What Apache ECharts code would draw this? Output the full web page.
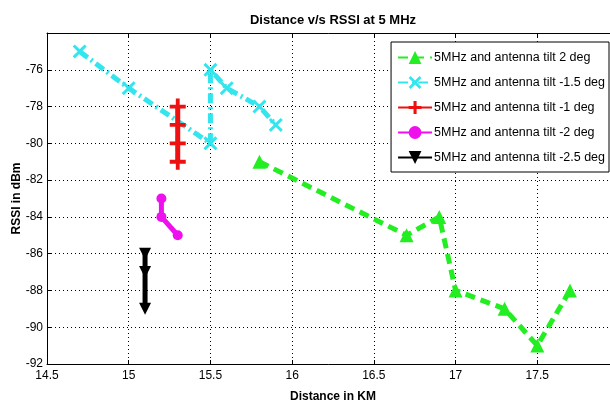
<!DOCTYPE html>
<html lang="en">
  <head>
    <meta charset="UTF-8" />
    <title>Distance v/s RSSI at 5 MHz</title>
    <script src="https://cdn.jsdelivr.net/npm/echarts@6/dist/echarts.min.js"></script>
    <style>
      html, body { margin: 0; padding: 0; background: #fff; }
      #main { width: 610px; height: 408px; }
    </style>
  </head>
  <body>
    <div id="main"></div>

    <script>
      // values
      const tilt2X = [15.8, 16.7, 16.9, 17.0, 17.3, 17.5, 17.7];
      const tilt2Y = [-81, -85, -84, -88, -89, -91, -88];
      const tiltM15X = [14.7, 15.0, 15.5, 15.5, 15.6, 15.8, 15.9];
      const tiltM15Y = [-75, -77, -80, -76, -77, -78, -79];
      const tiltM1X = [15.3, 15.3, 15.3, 15.3];
      const tiltM1Y = [-78, -79, -80, -81];
      const tiltM2X = [15.2, 15.2, 15.3];
      const tiltM2Y = [-83, -84, -85];
      const tiltM25X = [15.1, 15.1, 15.1];
      const tiltM25Y = [-86, -87, -89];

      const seriesNames = [
        '5MHz and antenna tilt 2 deg',
        '5MHz and antenna tilt -1.5 deg',
        '5MHz and antenna tilt -1 deg',
        '5MHz and antenna tilt -2 deg',
        '5MHz and antenna tilt -2.5 deg',
      ];

      const plusPath = 'path://M3.8,0H6.2V3.8H10V6.2H6.2V10H3.8V6.2H0V3.8H3.8Z';
      const crossPath = 'path://M1.5,0L5,3.5L8.5,0L10,1.5L6.5,5L10,8.5L8.5,10L5,6.5L1.5,10L0,8.5L3.5,5L0,1.5Z';

      function pairs(xs, ys) {
        return xs.map((x, i) => [x, ys[i]]);
      }

      const font = 'Liberation Sans, Arial, sans-serif';

      const chart = echarts.init(document.getElementById('main'), null, { renderer: 'canvas' });

      const options = {
        backgroundColor: '#fff',
        animation: false,
        title: {
          text: 'Distance v/s RSSI at 5 MHz',
          left: 328,
          textAlign: 'center',
          top: 9,
          textStyle: { fontFamily: font, fontSize: 13, fontWeight: 'bold', color: '#000' },
        },
        grid: { left: 47, right: -9, top: 33, bottom: 44, outerBoundsMode: 'none', containLabel: false },
        legend: {
          orient: 'vertical',
          right: 1,
          top: 42,
          padding: [9, 4, 8, 6],
          itemGap: 12,
          itemWidth: 34,
          itemHeight: 16,
          backgroundColor: '#fff',
          borderColor: '#000',
          borderWidth: 1,
          borderRadius: 0,
          textStyle: { fontFamily: font, fontSize: 12.5, color: '#000', padding: [0, 0, 0, -3] },
          data: seriesNames,
        },
        xAxis: [
          {
            type: 'value',
            min: 14.5,
            max: 18,
            interval: 0.5,
            name: 'Distance in KM',
            nameLocation: 'middle',
            nameGap: 27,
            nameTextStyle: { fontFamily: font, fontSize: 12, fontWeight: 'bold', color: '#000' },
            axisLine: { lineStyle: { color: '#000', width: 1 } },
            axisTick: { inside: true, length: 4, lineStyle: { color: '#000' } },
            axisLabel: { fontFamily: font, fontSize: 12, color: '#000', margin: 6, showMaxLabel: false },
            splitLine: { show: true, lineStyle: { color: '#000', type: [1, 3], width: 1 } },
          },
          {
            type: 'value',
            position: 'top',
            min: 14.5,
            max: 18,
            interval: 0.5,
            axisLine: { lineStyle: { color: '#000', width: 1 } },
            axisTick: { inside: true, length: 4, lineStyle: { color: '#000' } },
            axisLabel: { show: false },
            splitLine: { show: false },
          },
        ],
        yAxis: [
          {
            type: 'value',
            min: -92,
            max: -74,
            interval: 2,
            name: 'RSSI in dBm',
            nameLocation: 'middle',
            nameGap: 24,
            nameMoveOverlap: false,
            nameTextStyle: { fontFamily: font, fontSize: 12, fontWeight: 'bold', color: '#000' },
            axisLine: { show: true, lineStyle: { color: '#000', width: 1 } },
            axisTick: { show: true, inside: true, length: 4, lineStyle: { color: '#000' } },
            axisLabel: { fontFamily: font, fontSize: 12, color: '#000', margin: 4, showMaxLabel: false },
            splitLine: { show: true, lineStyle: { color: '#000', type: [1, 3], width: 1 } },
          },
        ],
        series: [
          {
            name: seriesNames[0],
            type: 'line',
            data: pairs(tilt2X, tilt2Y),
            color: '#22ee22',
            symbol: 'triangle',
            symbolSize: 14,
            lineStyle: { width: 5, type: [10, 6] },
          },
          {
            name: seriesNames[1],
            type: 'line',
            data: pairs(tiltM15X, tiltM15Y),
            color: '#33e6ee',
            symbol: crossPath,
            symbolSize: 14,
            lineStyle: { width: 5, type: [10, 4, 2, 4] },
          },
          {
            name: seriesNames[2],
            type: 'line',
            data: pairs(tiltM1X, tiltM1Y),
            color: '#ee1111',
            symbol: plusPath,
            symbolSize: 16,
            lineStyle: { width: 5 },
          },
          {
            name: seriesNames[3],
            type: 'line',
            data: pairs(tiltM2X, tiltM2Y),
            color: '#ee11ee',
            symbol: 'circle',
            symbolSize: 10,
            lineStyle: { width: 5 },
          },
          {
            name: seriesNames[4],
            type: 'line',
            data: pairs(tiltM25X, tiltM25Y),
            color: '#000000',
            symbol: 'triangle',
            symbolRotate: 180,
            symbolSize: 12,
            lineStyle: { width: 5 },
          },
        ],
      };

      chart.setOption(options);
    </script>
  </body>
</html>
